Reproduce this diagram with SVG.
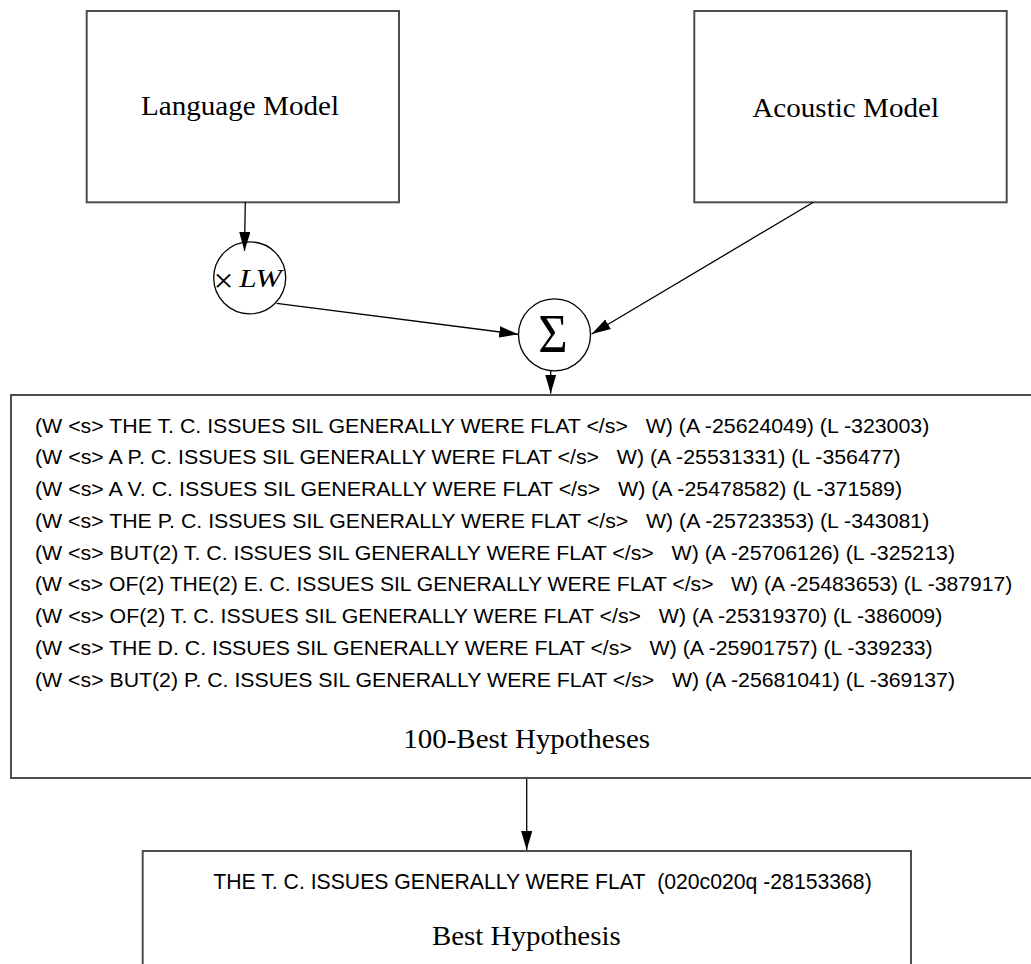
<svg xmlns="http://www.w3.org/2000/svg" width="1031" height="964" viewBox="0 0 1031 964">
<style>
.box{fill:#fff;stroke:#4d4d4d;stroke-width:2}
.circ{fill:#fff;stroke:#000;stroke-width:1.3}
.serif{font-family:"Liberation Serif","Times New Roman",serif;fill:#000}
.sans{font-family:"Liberation Sans",Arial,sans-serif;fill:#000}
.hyp{font-size:20px}
.big{font-size:27.7px}
.conn{stroke:#000;stroke-width:1.3;fill:none;marker-end:url(#ah)}
</style>
<defs>
<marker id="ah" markerUnits="userSpaceOnUse" markerWidth="20" markerHeight="12" refX="19" refY="5.6" orient="auto">
<path d="M0,0 L19,5.6 L0,11.2 z" fill="#000"/>
</marker>
</defs>
<rect width="1031" height="964" fill="#fff"/>
<g id="language-model">
<rect class="box" x="86.7" y="11" width="312.3" height="191.3"/>
<text class="serif big" x="141" y="115" textLength="198" lengthAdjust="spacingAndGlyphs">Language Model</text>
</g>
<g id="acoustic-model">
<rect class="box" x="694.3" y="11" width="312.4" height="191.3"/>
<text class="serif big" x="752.3" y="116.7" textLength="186.7" lengthAdjust="spacingAndGlyphs">Acoustic Model</text>
</g>
<g id="times-lw">
<circle class="circ" cx="249.7" cy="277.8" r="36"/>
<text class="serif" x="213.5" y="291.5" font-size="34" textLength="20" lengthAdjust="spacingAndGlyphs">×</text>
<text class="serif" x="239.3" y="287.3" font-size="26" font-style="italic" textLength="42.4" lengthAdjust="spacingAndGlyphs">LW</text>
</g>
<g id="sum">
<circle class="circ" cx="554.5" cy="334.8" r="36"/>
<text class="serif" x="538.3" y="352.3" font-size="54" textLength="29.4" lengthAdjust="spacingAndGlyphs">Σ</text>
</g>
<g id="n-best">
<rect class="box" x="11" y="395" width="1031" height="383"/>
<g class="sans hyp">
<text x="35" y="432.5" textLength="894.3" lengthAdjust="spacingAndGlyphs">(W &lt;s&gt; THE T. C. ISSUES SIL GENERALLY WERE FLAT &lt;/s&gt;&#160;&#160; W) (A -25624049) (L -323003)</text>
<text x="35" y="464.25" textLength="865.7" lengthAdjust="spacingAndGlyphs">(W &lt;s&gt; A P. C. ISSUES SIL GENERALLY WERE FLAT &lt;/s&gt;&#160;&#160; W) (A -25531331) (L -356477)</text>
<text x="35" y="496" textLength="867" lengthAdjust="spacingAndGlyphs">(W &lt;s&gt; A V. C. ISSUES SIL GENERALLY WERE FLAT &lt;/s&gt;&#160;&#160; W) (A -25478582) (L -371589)</text>
<text x="35" y="527.75" textLength="894.3" lengthAdjust="spacingAndGlyphs">(W &lt;s&gt; THE P. C. ISSUES SIL GENERALLY WERE FLAT &lt;/s&gt;&#160;&#160; W) (A -25723353) (L -343081)</text>
<text x="35" y="559.5" textLength="920" lengthAdjust="spacingAndGlyphs">(W &lt;s&gt; BUT(2) T. C. ISSUES SIL GENERALLY WERE FLAT &lt;/s&gt;&#160;&#160; W) (A -25706126) (L -325213)</text>
<text x="35" y="591.25" textLength="977.3" lengthAdjust="spacingAndGlyphs">(W &lt;s&gt; OF(2) THE(2) E. C. ISSUES SIL GENERALLY WERE FLAT &lt;/s&gt;&#160;&#160; W) (A -25483653) (L -387917)</text>
<text x="35" y="623" textLength="907.3" lengthAdjust="spacingAndGlyphs">(W &lt;s&gt; OF(2) T. C. ISSUES SIL GENERALLY WERE FLAT &lt;/s&gt;&#160;&#160; W) (A -25319370) (L -386009)</text>
<text x="35" y="654.75" textLength="897.7" lengthAdjust="spacingAndGlyphs">(W &lt;s&gt; THE D. C. ISSUES SIL GENERALLY WERE FLAT &lt;/s&gt;&#160;&#160; W) (A -25901757) (L -339233)</text>
<text x="35" y="686.5" textLength="920" lengthAdjust="spacingAndGlyphs">(W &lt;s&gt; BUT(2) P. C. ISSUES SIL GENERALLY WERE FLAT &lt;/s&gt;&#160;&#160; W) (A -25681041) (L -369137)</text>
</g>
<text class="serif big" x="403.3" y="748.3" textLength="246.7" lengthAdjust="spacingAndGlyphs">100-Best Hypotheses</text>
</g>
<g id="best">
<rect class="box" x="142.7" y="851" width="768.3" height="140"/>
<text class="sans" x="213.3" y="889.3" font-size="22" textLength="658.4" lengthAdjust="spacingAndGlyphs">THE T. C. ISSUES GENERALLY WERE FLAT&#160; (020c020q -28153368)</text>
<text class="serif" x="432" y="945" font-size="26.5" textLength="188.7" lengthAdjust="spacingAndGlyphs">Best Hypothesis</text>
</g>
<g id="connectors">
<line class="conn" x1="245.3" y1="202.3" x2="244.5" y2="251"/>
<line class="conn" x1="276.7" y1="303.3" x2="518.3" y2="334.3"/>
<line class="conn" x1="813.3" y1="202.3" x2="591.7" y2="334"/>
<line class="conn" x1="550.7" y1="370.7" x2="550.7" y2="393.5"/>
<line class="conn" x1="526.7" y1="779" x2="526.7" y2="850"/>
</g>
</svg>
